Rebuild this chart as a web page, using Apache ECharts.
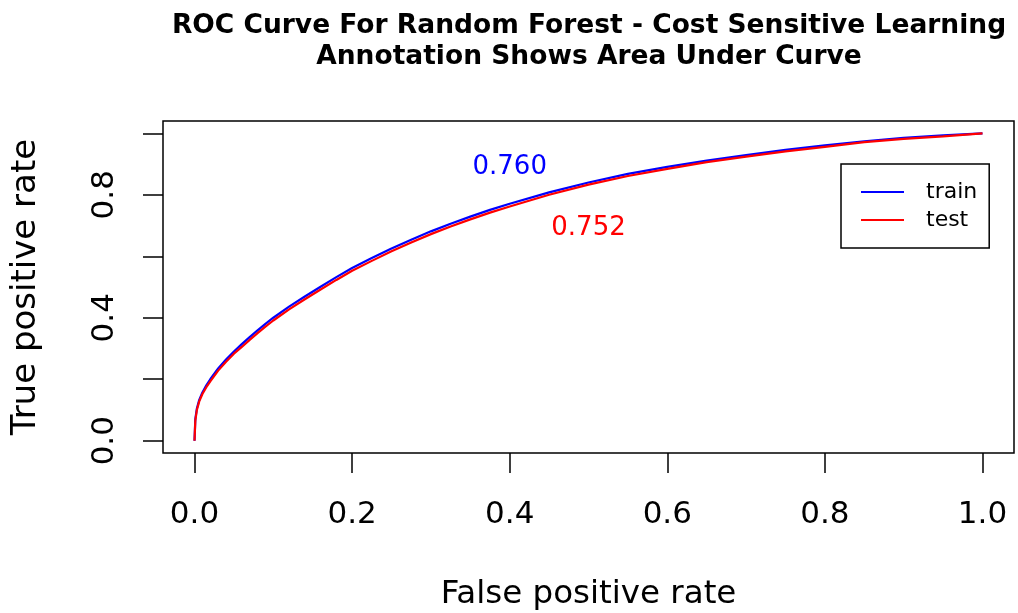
<!DOCTYPE html>
<html>
<head>
<meta charset="utf-8">
<script src="https://cdn.jsdelivr.net/npm/echarts@6/dist/echarts.min.js"></script>
<style>
html,body{margin:0;padding:0;background:#fff;}
#chart{width:1018px;height:613px;}
</style>
</head>
<body>
<div id="chart"></div>
<script>
// ---- data ----
const titleLines = ["ROC Curve For Random Forest - Cost Sensitive Learning", "Annotation Shows Area Under Curve"];
const xAxisName = "False positive rate";
const yAxisName = "True positive rate";
const seriesNames = ["train", "test"];
const fpr = [0, 0.001, 0.003, 0.006, 0.01, 0.015, 0.02, 0.03, 0.04, 0.05, 0.06, 0.07, 0.08, 0.09, 0.10, 0.12, 0.14, 0.16, 0.18, 0.20, 0.225, 0.25, 0.275, 0.30, 0.325, 0.35, 0.375, 0.40, 0.45, 0.50, 0.55, 0.60, 0.65, 0.70, 0.75, 0.80, 0.85, 0.90, 0.95, 1.0];
const tprTrain = [0, 0.07, 0.105, 0.133, 0.157, 0.180, 0.200, 0.235, 0.264, 0.290, 0.314, 0.337, 0.359, 0.380, 0.400, 0.436, 0.469, 0.501, 0.532, 0.562, 0.594, 0.625, 0.654, 0.681, 0.706, 0.729, 0.751, 0.771, 0.808, 0.840, 0.868, 0.891, 0.911, 0.929, 0.946, 0.961, 0.974, 0.985, 0.993, 1.0];
const tprTest = [0, 0.065, 0.100, 0.128, 0.152, 0.174, 0.193, 0.228, 0.257, 0.283, 0.305, 0.328, 0.350, 0.371, 0.391, 0.427, 0.460, 0.492, 0.523, 0.553, 0.585, 0.616, 0.645, 0.672, 0.697, 0.720, 0.742, 0.762, 0.800, 0.833, 0.861, 0.884, 0.906, 0.924, 0.941, 0.956, 0.971, 0.982, 0.990, 1.0];
const aucLabels = ["0.760", "0.752"];
const aucPositions = [[0.4, 0.9], [0.5, 0.7]];
const xTicks = [0, 0.2, 0.4, 0.6, 0.8, 1.0];
const yTicks = [0, 0.2, 0.4, 0.6, 0.8, 1.0];
const yTickLabels = [0, 0.4, 0.8];

const FONT = "DejaVu Sans";
const colors = ["#0000FF", "#FF0000"];

const chart = echarts.init(document.getElementById('chart'), null, {renderer: 'canvas'});

function pairs(xs, ys) { return xs.map((x, i) => [x, ys[i]]); }

const option = {
  animation: false,
  backgroundColor: '#fff',
  graphic: [
    {type: 'text', x: 589, y: 26.5, style: {text: titleLines[0], x: 0, y: 0, align: 'center', verticalAlign: 'middle', font: 'bold 26.5px "DejaVu Sans"', fill: '#000'}},
    {type: 'text', x: 589, y: 57.5, style: {text: titleLines[1], x: 0, y: 0, align: 'center', verticalAlign: 'middle', font: 'bold 26.5px "DejaVu Sans"', fill: '#000'}}
  ],
  grid: {left: 163, right: 4, top: 121, bottom: 160, show: true, borderColor: '#000', borderWidth: 1.5, backgroundColor: 'transparent', containLabel: false, outerBoundsMode: 'none'},
  legend: {
    orient: 'vertical', left: 841, top: 164,
    padding: [17, 12, 17, 20], itemGap: 6,
    itemWidth: 43, itemHeight: 2, icon: 'rect',
    borderColor: '#000', borderWidth: 1.5, backgroundColor: '#fff',
    textStyle: {fontFamily: FONT, fontSize: 22, color: '#000', lineHeight: 22, padding: [0, 0, 0, 17]},
    data: seriesNames
  },
  xAxis: {
    type: 'value', min: -0.04, max: 1.04,
    name: xAxisName, nameLocation: 'middle', nameGap: 125,
    nameTextStyle: {fontFamily: FONT, fontSize: 32.5, color: '#000'},
    axisLine: {show: false, onZero: false},
    splitLine: {show: false},
    axisTick: {show: true, inside: false, length: 20, lineStyle: {color: '#000', width: 1.5}, customValues: xTicks},
    axisLabel: {show: true, margin: 46, fontFamily: FONT, fontSize: 31, color: '#000', customValues: xTicks, formatter: v => Number(v).toFixed(1)}
  },
  yAxis: {
    type: 'value', min: -0.04, max: 1.04,
    name: yAxisName, nameLocation: 'middle', nameGap: 119.5,
    nameTextStyle: {fontFamily: FONT, fontSize: 34, color: '#000'},
    axisLine: {show: false, onZero: false},
    splitLine: {show: false},
    axisTick: {show: true, inside: false, length: 20, lineStyle: {color: '#000', width: 1.5}, customValues: yTicks},
    axisLabel: {show: true, rotate: 90, margin: 43, fontFamily: FONT, fontSize: 31, color: '#000', customValues: yTickLabels, formatter: v => Number(v).toFixed(1)}
  },
  series: [
    {
      name: seriesNames[0], type: 'line', data: pairs(fpr, tprTrain), showSymbol: false, symbol: 'none',
      lineStyle: {color: colors[0], width: 2.2}, itemStyle: {color: colors[0]}, z: 3,
      markPoint: {symbol: 'circle', symbolSize: 0, data: [{coord: aucPositions[0], value: aucLabels[0]}],
        label: {show: true, position: 'inside', offset: [0, 3], formatter: aucLabels[0], fontFamily: FONT, fontSize: 26, color: colors[0]}}
    },
    {
      name: seriesNames[1], type: 'line', data: pairs(fpr, tprTest), showSymbol: false, symbol: 'none',
      lineStyle: {color: colors[1], width: 2.2}, itemStyle: {color: colors[1]}, z: 4,
      markPoint: {symbol: 'circle', symbolSize: 0, data: [{coord: aucPositions[1], value: aucLabels[1]}],
        label: {show: true, position: 'inside', offset: [0, 3], formatter: aucLabels[1], fontFamily: FONT, fontSize: 26, color: colors[1]}}
    }
  ]
};
chart.setOption(option);
</script>
</body>
</html>
